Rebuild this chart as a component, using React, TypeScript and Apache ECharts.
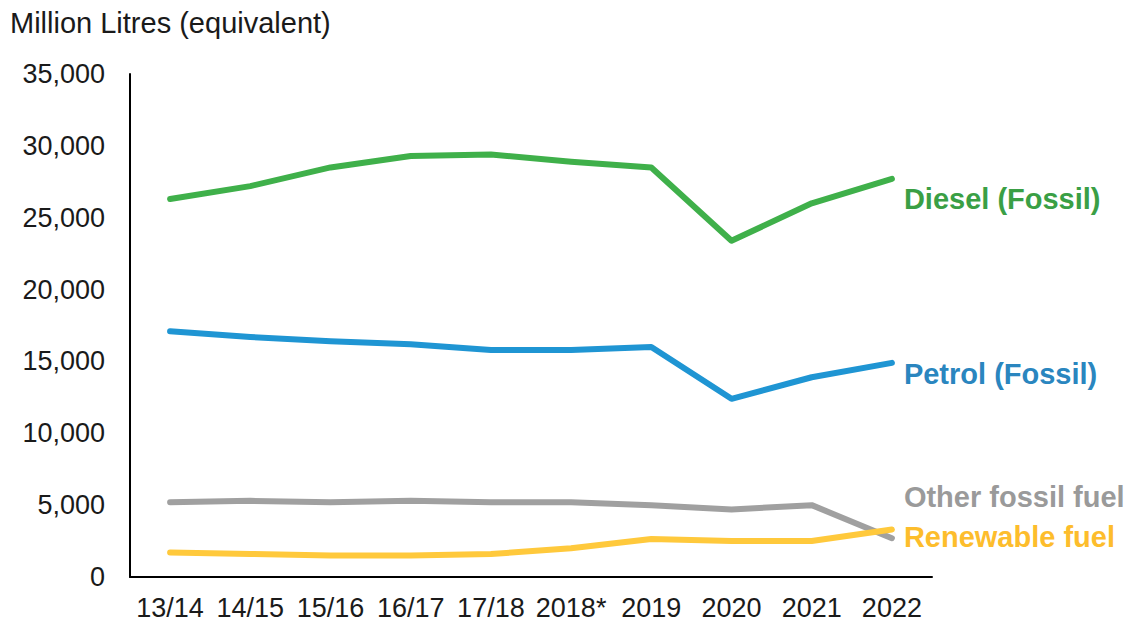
import React, { useEffect, useRef } from "react";
import * as echarts from "echarts";

const categories = ["13/14", "14/15", "15/16", "16/17", "17/18", "2018*", "2019", "2020", "2021", "2022"];
const dieselFossil = [26300, 27200, 28500, 29300, 29400, 28900, 28500, 23400, 26000, 27700];
const petrolFossil = [17100, 16700, 16400, 16200, 15800, 15800, 16000, 12400, 13900, 14900];
const otherFossil = [5200, 5300, 5200, 5300, 5200, 5200, 5000, 4700, 5000, 2700];
const renewableFuel = [1700, 1600, 1500, 1500, 1600, 2000, 2650, 2500, 2500, 3300];
const yTicks = { min: 0, max: 35000, interval: 5000 };

const FONT = "'Liberation Sans', Arial, sans-serif";

export default function App() {
  const ref = useRef<HTMLDivElement>(null);
  useEffect(() => {
    document.body.style.margin = "0";
    const chart = echarts.init(ref.current!, null, { renderer: "svg" });
    const mk = (name: string, data: number[], lineColor: string, labelColor: string, dy: number) => ({
      name,
      type: "line",
      data,
      symbol: "none",
      lineStyle: { color: lineColor, width: 6, cap: "round", join: "round" },
      itemStyle: { color: lineColor },
      endLabel: {
        show: true,
        formatter: name,
        distance: 12,
        offset: [0, dy],
        color: labelColor,
        fontSize: 29,
        fontWeight: "bold",
        fontFamily: FONT,
      },
    });
    chart.setOption({
      animation: false,
      backgroundColor: "#ffffff",
      title: {
        text: "Million Litres (equivalent)",
        left: 5,
        top: 3,
        textStyle: { fontSize: 29, fontWeight: "normal", color: "#1a1a1a", fontFamily: FONT },
      },
      grid: { left: 130, right: 202, top: 74, bottom: 47 },
      xAxis: {
        type: "category",
        data: categories,
        boundaryGap: true,
        axisLine: { show: true, lineStyle: { color: "#000", width: 2 } },
        axisTick: { show: false },
        axisLabel: { fontSize: 27, color: "#1a1a1a", fontFamily: FONT, margin: 17, interval: 0 },
      },
      yAxis: {
        type: "value",
        min: yTicks.min,
        max: yTicks.max,
        interval: yTicks.interval,
        axisLine: { show: true, lineStyle: { color: "#000", width: 2 } },
        axisTick: { show: false },
        splitLine: { show: false },
        axisLabel: {
          fontSize: 27,
          color: "#1a1a1a",
          fontFamily: FONT,
          margin: 25,
          formatter: (v: number) => v.toLocaleString("en-US"),
        },
      },
      series: [
        mk("Diesel (Fossil)", dieselFossil, "#3fb04a", "#3a9f45", 20),
        mk("Petrol (Fossil)", petrolFossil, "#1f95d3", "#2a86bf", 11),
        mk("Other fossil fuel", otherFossil, "#a0a0a0", "#9a9a9a", -41),
        mk("Renewable fuel", renewableFuel, "#ffc93c", "#fdbd2c", 7),
      ],
    });
    return () => chart.dispose();
  }, []);
  return <div ref={ref} style={{ width: 1134, height: 624 }} />;
}
